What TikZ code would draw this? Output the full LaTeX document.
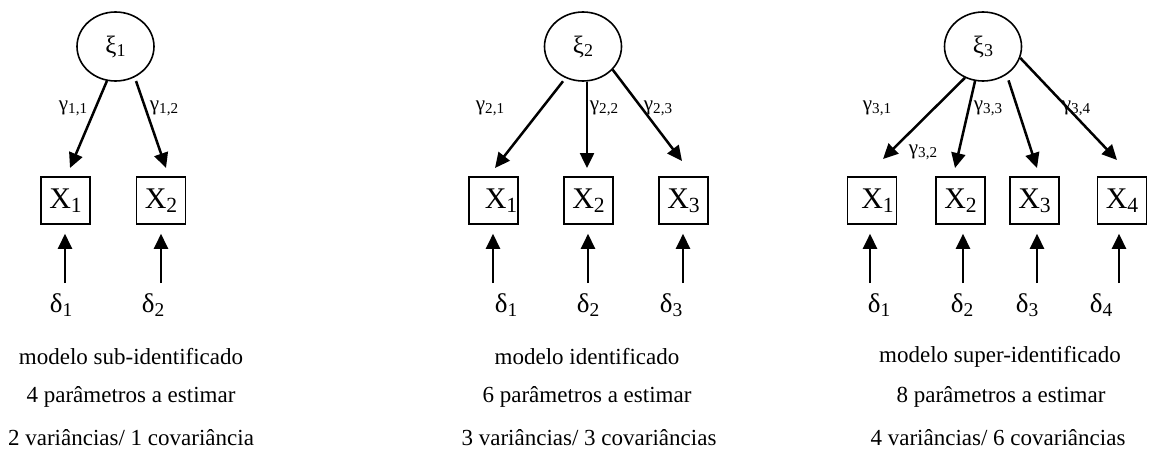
\documentclass[tikz,border=0pt]{standalone}
\usepackage{fontspec}
\setmainfont{Liberation Serif}
\usetikzlibrary{arrows.meta,shapes.geometric}
\newcommand{\lsub}[1]{\raisebox{-0.3ex}{\scalebox{0.72}{#1}}}
\begin{document}
\begin{tikzpicture}[x=1pt,y=-1pt,
  latent/.style={ellipse,draw,line width=1.6pt,minimum width=77pt,minimum height=69pt,inner sep=0pt,font=\fontsize{25}{25}\selectfont},
  obs/.style={rectangle,draw,line width=1.6pt,minimum width=49pt,minimum height=47pt,inner sep=0pt,font=\fontsize{30}{30}\selectfont},
  errlbl/.style={inner sep=0pt,font=\fontsize{27}{27}\selectfont},
  lbl/.style={inner sep=0pt,font=\fontsize{21}{21}\selectfont},
  captext/.style={inner sep=0pt,font=\fontsize{23}{23}\selectfont},
  arr/.style={line width=2.5pt,-{Triangle[length=15pt,width=14pt]}}
]
\useasboundingbox (0,0) rectangle (1172,461);

% ---------- panel 1 ----------
\node[latent] (e1) at (115.5,46.5) {ξ\lsub{1}};
\node[obs] (b11) at (65.5,200.5) {X\lsub{1}};
\node[obs] (b12) at (161,200.5) {X\lsub{2}};
\coordinate (t11) at (70,168);
\coordinate (t12) at (166,168);
\draw[arr] (e1.256) -- (t11);
\draw[arr,shorten <=4pt] (e1.302) -- (t12);
\node[lbl] (g11) at (73,108) {γ\lsub{1,1}};
\node[lbl] (g12) at (164,108) {γ\lsub{1,2}};
\coordinate (s11) at (65,283);
\coordinate (s12) at (161,283);
\draw[arr,shorten >=9pt] (s11) -- (s11 |- b11.south);
\draw[arr,shorten >=9pt] (s12) -- (s12 |- b12.south);
\node[errlbl] (d11) at (61,305) {δ\lsub{1}};
\node[errlbl] (d12) at (153,305) {δ\lsub{2}};
\node[captext] (c11) at (131,357) {modelo sub-identificado};
\node[captext] (c12) at (131,397) {4 parâmetros a estimar};
\node[captext] (c13) at (131,438) {2 variâncias/ 1 covariância};

% ---------- panel 2 ----------
\node[latent] (e2) at (583,46.5) {ξ\lsub{2}};
\node[obs] (b21) at (493.5,200.5) {\hspace{15pt}X\lsub{1}};
\node[obs] (b22) at (588.5,200.5) {X\lsub{2}};
\node[obs] (b23) at (683.5,200.5) {X\lsub{3}\hspace{9pt}};
\coordinate (t21) at (495,168);
\coordinate (t22) at (587,168);
\coordinate (t23) at (682,161);
\draw[arr,shorten <=4pt] (e2.241) -- (t21);
\draw[arr] (e2.south -| t22) -- (t22);
\draw[arr] (e2.322) -- (t23);
\node[lbl] (g21) at (490,108) {γ\lsub{2,1}};
\node[lbl] (g22) at (604,108) {γ\lsub{2,2}};
\node[lbl] (g23) at (658,108) {γ\lsub{2,3}};
\coordinate (s21) at (493,283);
\coordinate (s22) at (588,283);
\coordinate (s23) at (683,283);
\draw[arr,shorten >=9pt] (s21) -- (s21 |- b21.south);
\draw[arr,shorten >=9pt] (s22) -- (s22 |- b22.south);
\draw[arr,shorten >=9pt] (s23) -- (s23 |- b23.south);
\node[errlbl] (d21) at (506,305) {δ\lsub{1}};
\node[errlbl] (d22) at (588,305) {δ\lsub{2}};
\node[errlbl] (d23) at (671,305) {δ\lsub{3}};
\node[captext] (c21) at (587,357) {modelo identificado};
\node[captext] (c22) at (587,397) {6 parâmetros a estimar};
\node[captext] (c23) at (589,438) {3 variâncias/ 3 covariâncias};

% ---------- panel 3 ----------
\node[latent] (e3) at (983,46.5) {ξ\lsub{3}};
\node[obs] (b31) at (872,200.5) {\hspace{11pt}X\lsub{1}};
\node[obs] (b32) at (960.5,200.5) {X\lsub{2}};
\node[obs] (b33) at (1034.5,200.5) {X\lsub{3}};
\node[obs] (b34) at (1122,200.5) {X\lsub{4}\hspace{10pt}};
\coordinate (t31) at (883,159);
\coordinate (t32) at (955,168);
\coordinate (t33) at (1037,168);
\coordinate (t34) at (1117,160);
\draw[arr] (e3.240) -- (t31);
\draw[arr] (e3.257) -- (t32);
\draw[arr,shorten <=6pt] (e3.310) -- (t33);
\draw[arr] (e3.343) -- (t34);
\node[lbl] (g31) at (877,108) {γ\lsub{3,1}};
\node[lbl] (g33) at (988,108) {γ\lsub{3,3}};
\node[lbl] (g34) at (1076,108) {γ\lsub{3,4}};
\node[lbl] (g32) at (923,152) {γ\lsub{3,2}};
\coordinate (s31) at (870,283);
\coordinate (s32) at (963,283);
\coordinate (s33) at (1037,283);
\coordinate (s34) at (1119,283);
\draw[arr,shorten >=9pt] (s31) -- (s31 |- b31.south);
\draw[arr,shorten >=9pt] (s32) -- (s32 |- b32.south);
\draw[arr,shorten >=9pt] (s33) -- (s33 |- b33.south);
\draw[arr,shorten >=9pt] (s34) -- (s34 |- b34.south);
\node[errlbl] (d31) at (879,305) {δ\lsub{1}};
\node[errlbl] (d32) at (962,305) {δ\lsub{2}};
\node[errlbl] (d33) at (1027,305) {δ\lsub{3}};
\node[errlbl] (d34) at (1101,305) {δ\lsub{4}};
\node[captext] (c31) at (1000,357) {modelo super-identificado};
\node[captext] (c32) at (1001,397) {8 parâmetros a estimar};
\node[captext] (c33) at (998,438) {4 variâncias/ 6 covariâncias};
\end{tikzpicture}
\end{document}
